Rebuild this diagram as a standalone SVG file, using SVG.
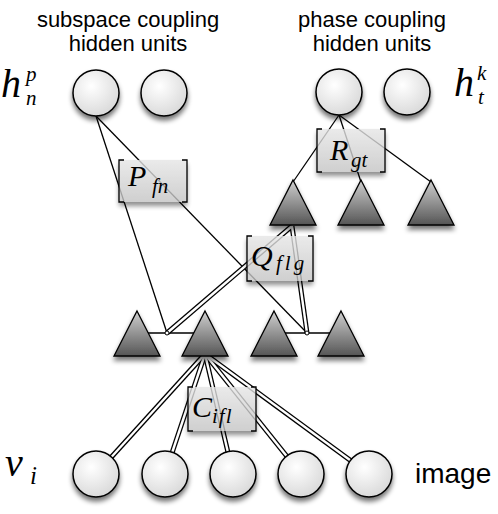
<svg xmlns="http://www.w3.org/2000/svg" width="498" height="514" viewBox="0 0 498 514">
<defs>
<radialGradient id="cg" cx="0.4" cy="0.35" r="0.7">
<stop offset="0" stop-color="#ffffff"/>
<stop offset="1" stop-color="#d8d8d8"/>
</radialGradient>
<linearGradient id="tg" x1="0" y1="0" x2="0" y2="1">
<stop offset="0" stop-color="#d0d0d0"/>
<stop offset="1" stop-color="#555555"/>
</linearGradient>
<linearGradient id="bg" x1="0" y1="0" x2="0" y2="1">
<stop offset="0" stop-color="#e6e6e6"/>
<stop offset="1" stop-color="#c4c4c4"/>
</linearGradient>
<filter id="sh" x="-30%" y="-30%" width="160%" height="170%">
<feGaussianBlur in="SourceAlpha" stdDeviation="2.5"/>
<feOffset dx="0" dy="4" result="b"/>
<feComponentTransfer><feFuncA type="linear" slope="0.55"/></feComponentTransfer>
<feMerge><feMergeNode/><feMergeNode in="SourceGraphic"/></feMerge>
</filter>
</defs>
<style>
.lbl{font-family:"Liberation Sans",Arial,sans-serif;font-size:22px;fill:#000;text-anchor:middle}
.m{font-family:"Liberation Serif","Times New Roman",serif;font-style:italic;fill:#000}
.c{fill:url(#cg);stroke:#000;stroke-width:1.5}
.t{fill:url(#tg);stroke:#000;stroke-width:1.3;stroke-linejoin:miter}
.thin{stroke:#000;stroke-width:1.3;fill:none}
.dbo{stroke:#000;stroke-width:5;fill:none}
.dbi{stroke:#fff;stroke-width:2.4;fill:none}
.box{fill:url(#bg);opacity:0.8}
.br{stroke:#000;stroke-width:1.3;fill:none}
</style>

<text class="lbl" x="128" y="27">subspace coupling</text>
<text class="lbl" x="128" y="51">hidden units</text>
<text class="lbl" x="372" y="27">phase coupling</text>
<text class="lbl" x="372" y="51">hidden units</text>
<text x="415" y="483" font-family="Liberation Sans,Arial,sans-serif" font-size="28">image</text>

<g id="label-h-p">
<text class="m" x="1" y="97" font-size="40">h</text>
<text class="m" x="26" y="81" font-size="21">p</text>
<text class="m" x="26" y="105" font-size="21">n</text>
</g>
<g id="label-h-k">
<text class="m" x="454" y="96" font-size="40">h</text>
<text class="m" x="477" y="80" font-size="21">k</text>
<text class="m" x="478" y="104" font-size="21">t</text>
</g>
<g id="label-v">
<text class="m" x="5" y="476" font-size="40">v</text>
<text class="m" x="30" y="484" font-size="25">i</text>
</g>

<g id="connectors">
<line class="thin" x1="137" y1="333" x2="205" y2="333"/>
<line class="thin" x1="274" y1="333" x2="341" y2="333"/>
<line class="thin" x1="96" y1="116" x2="167" y2="333"/>
<line class="thin" x1="96" y1="116" x2="307" y2="333"/>
<line class="thin" x1="339" y1="115" x2="293" y2="182"/>
<line class="thin" x1="339" y1="115" x2="361" y2="182"/>
<line class="thin" x1="339" y1="115" x2="431" y2="182"/>
<g>
<line class="dbo" x1="167" y1="333" x2="292" y2="226"/>
<line class="dbo" x1="307" y1="333" x2="292" y2="226"/>
<line class="dbi" x1="167" y1="333" x2="292" y2="226"/>
<line class="dbi" x1="307" y1="333" x2="292" y2="226"/>
</g>
<g>
<line class="dbo" x1="205" y1="354" x2="96" y2="474"/>
<line class="dbo" x1="205" y1="354" x2="165" y2="474"/>
<line class="dbo" x1="205" y1="354" x2="233" y2="474"/>
<line class="dbo" x1="205" y1="354" x2="301" y2="474"/>
<line class="dbo" x1="205" y1="354" x2="369" y2="474"/>
<line class="dbi" x1="205" y1="354" x2="96" y2="474"/>
<line class="dbi" x1="205" y1="354" x2="165" y2="474"/>
<line class="dbi" x1="205" y1="354" x2="233" y2="474"/>
<line class="dbi" x1="205" y1="354" x2="301" y2="474"/>
<line class="dbi" x1="205" y1="354" x2="369" y2="474"/>
</g>
<circle cx="167" cy="333" r="2" fill="#fff" stroke="#000" stroke-width="1"/>
<circle cx="307" cy="333" r="2" fill="#fff" stroke="#000" stroke-width="1"/>
</g>

<g id="hp1" filter="url(#sh)"><circle class="c" cx="96" cy="93" r="23"/></g>
<g id="hp2" filter="url(#sh)"><circle class="c" cx="164" cy="93" r="23"/></g>
<g id="hk1" filter="url(#sh)"><circle class="c" cx="339" cy="92" r="23"/></g>
<g id="hk2" filter="url(#sh)"><circle class="c" cx="407" cy="92" r="23"/></g>

<g id="tu1" filter="url(#sh)"><polygon class="t" points="293,180 316,225 270,225"/></g>
<g id="tu2" filter="url(#sh)"><polygon class="t" points="361,180 384,225 338,225"/></g>
<g id="tu3" filter="url(#sh)"><polygon class="t" points="431,180 454,225 408,225"/></g>

<g id="tl1" filter="url(#sh)"><polygon class="t" points="137,311 160,356 114,356"/></g>
<g id="tl2" filter="url(#sh)"><polygon class="t" points="205,311 228,356 182,356"/></g>
<g id="tl3" filter="url(#sh)"><polygon class="t" points="274,311 297,356 251,356"/></g>
<g id="tl4" filter="url(#sh)"><polygon class="t" points="341,311 364,356 318,356"/></g>

<g id="v1" filter="url(#sh)"><circle class="c" cx="96" cy="474" r="23"/></g>
<g id="v2" filter="url(#sh)"><circle class="c" cx="165" cy="474" r="23"/></g>
<g id="v3" filter="url(#sh)"><circle class="c" cx="233" cy="474" r="23"/></g>
<g id="v4" filter="url(#sh)"><circle class="c" cx="301" cy="474" r="23"/></g>
<g id="v5" filter="url(#sh)"><circle class="c" cx="369" cy="474" r="23"/></g>

<g id="box-P">
<rect class="box" x="119" y="160" width="68" height="42" filter="url(#sh)"/>
<path class="br" d="M124,160 H119 V202 H124 M182,160 H187 V202 H182"/>
<text class="m" x="128" y="186" font-size="30">P</text>
<text class="m" x="152" y="193" font-size="21">fn</text>
</g>
<g id="box-R">
<rect class="box" x="317" y="129" width="68" height="43" filter="url(#sh)"/>
<path class="br" d="M322,129 H317 V172 H322 M380,129 H385 V172 H380"/>
<text class="m" x="330" y="160" font-size="30">R</text>
<text class="m" x="351" y="167" font-size="21">gt</text>
</g>
<g id="box-Q">
<rect class="box" x="247" y="236" width="66" height="45" filter="url(#sh)"/>
<path class="br" d="M252,236 H247 V281 H252 M308,236 H313 V281 H308"/>
<text class="m" x="251" y="266" font-size="30">Q</text>
<text class="m" x="276" y="270" font-size="21" letter-spacing="3">flg</text>
</g>
<g id="box-C">
<rect class="box" x="188" y="387" width="68" height="44" filter="url(#sh)"/>
<path class="br" d="M193,387 H188 V431 H193 M251,387 H256 V431 H251"/>
<text class="m" x="192" y="417" font-size="30">C</text>
<text class="m" x="212" y="423" font-size="21" letter-spacing="1">ifl</text>
</g>
</svg>
